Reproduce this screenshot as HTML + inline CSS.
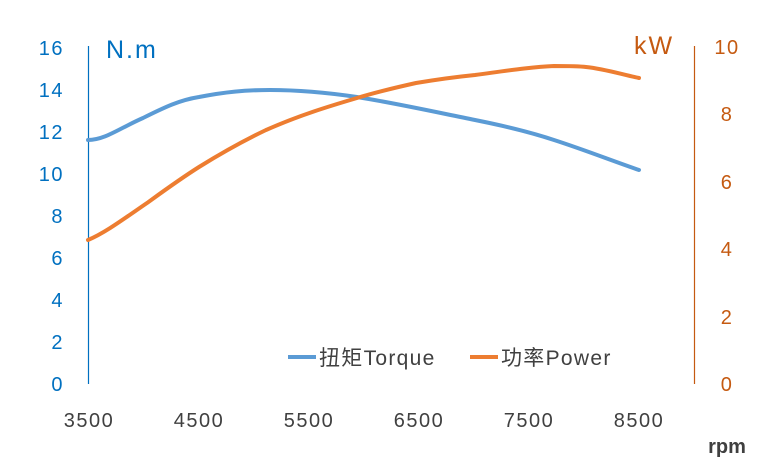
<!DOCTYPE html>
<html><head><meta charset="utf-8"><style>
body{margin:0;background:#fff}
svg text{font-family:"Liberation Sans","Noto Sans CJK SC",sans-serif}
</style></head><body>
<svg width="760" height="464" viewBox="0 0 760 464">
<line x1="88.5" y1="46" x2="88.5" y2="384" stroke="#0070C0" stroke-width="1.2"/>
<line x1="694.5" y1="46" x2="694.5" y2="384" stroke="#C55A11" stroke-width="1.2"/>
<g font-size="20" fill="#0070C0" text-anchor="end" letter-spacing="1.5">
<text x="64" y="391">0</text><text x="64" y="349">2</text><text x="64" y="307">4</text><text x="64" y="265">6</text><text x="64" y="223">8</text><text x="64" y="181">10</text><text x="64" y="139">12</text><text x="64" y="97">14</text><text x="64" y="55">16</text>
</g>
<text x="106" y="58" font-size="25" fill="#0070C0" letter-spacing="2">N.m</text>
<g font-size="20" fill="#C55A11" text-anchor="middle" letter-spacing="1.5">
<text x="727" y="391">0</text><text x="727" y="324">2</text><text x="727" y="256">4</text><text x="727" y="189">6</text><text x="727" y="121">8</text><text x="727" y="54">10</text>
</g>
<text x="634" y="54" font-size="25" fill="#C55A11" letter-spacing="2">kW</text>
<g font-size="20" fill="#404040" text-anchor="middle" letter-spacing="1.5">
<text x="89" y="427">3500</text><text x="199" y="427">4500</text><text x="309" y="427">5500</text><text x="419" y="427">6500</text><text x="529" y="427">7500</text><text x="639" y="427">8500</text>
</g>
<text x="727" y="453" font-size="20" fill="#404040" text-anchor="middle" font-weight="bold">rpm</text>
<path d="M88,140 C105,140 120,128 143,118 C165,107 180,100 199,97 C225,92 245,90 270,90 C300,90 330,93 357,97 C400,104 440,113 475,120 C505,126 530,132 554,140 C585,150 610,160 639,170" fill="none" stroke="#5B9BD5" stroke-width="4" stroke-linecap="round"/>
<path d="M88,240 C105,233 125,218 147,203 C165,190 180,179 199,167 C220,154 243,141 266,130 C300,115 330,106 357,98 C380,91 398,87 416,83 C440,79 455,77 475,75 C505,71 530,67 554,66 C570,66 578,66 586,67 C605,69 620,74 639,78" fill="none" stroke="#ED7D31" stroke-width="4" stroke-linecap="round"/>
<line x1="288" y1="357" x2="316" y2="357" stroke="#5B9BD5" stroke-width="4"/>
<text x="319" y="365" font-size="21" fill="#404040" letter-spacing="1.3">扭矩Torque</text>
<line x1="470" y1="357" x2="498" y2="357" stroke="#ED7D31" stroke-width="4"/>
<text x="501" y="365" font-size="21" fill="#404040" letter-spacing="1.3">功率Power</text>
</svg>
</body></html>
